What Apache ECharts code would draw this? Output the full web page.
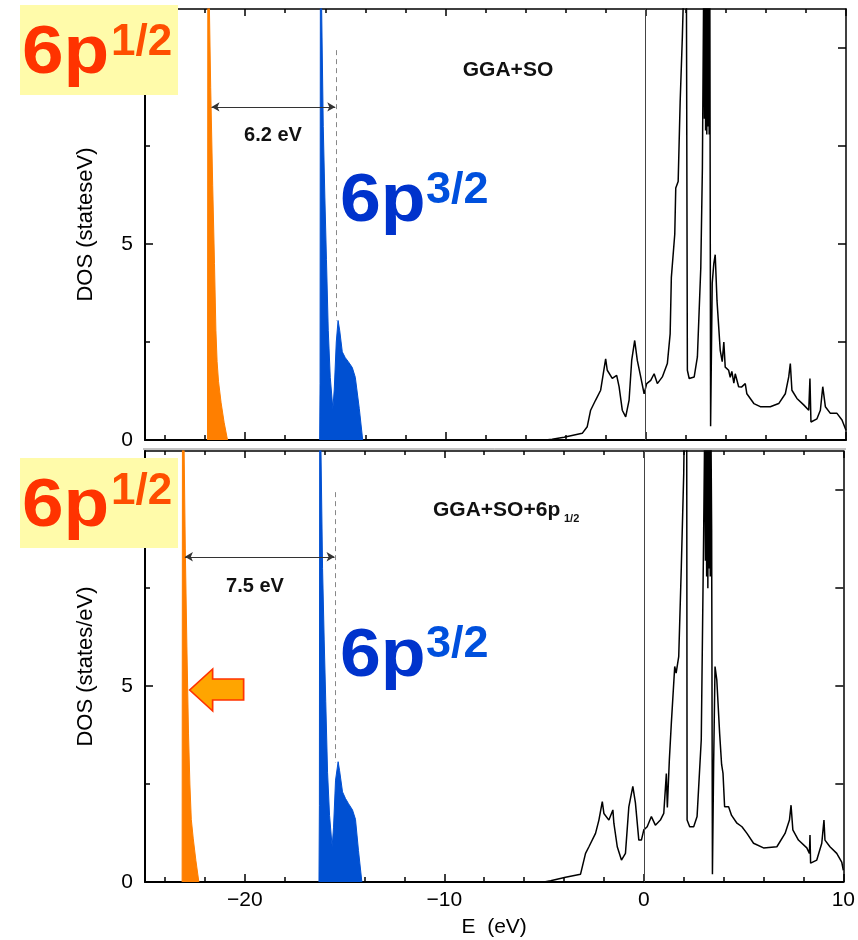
<!DOCTYPE html>
<html>
<head>
<meta charset="utf-8">
<script src="https://cdn.jsdelivr.net/npm/echarts@6/dist/echarts.min.js"></script>
<style>
html,body{margin:0;padding:0;background:#fff;}
#chart{width:858px;height:940px;}
</style>
</head>
<body>
<div id="chart"></div>
<script>
// ---------- data ----------
// x-axis tick values
const xMinorTicks = [-24,-22,-18,-16,-14,-12,-8,-6,-4,-2,2,4,6,8];
const xMajorTicks = [-20,-10,0,10];
const xTickLabels = [-20,-10,0,10];
const yMajorTicks = [0,5,10];
const yMinorTicks = [2.5,7.5];
const yRightTicks = [0,2.5,5,7.5,10];
const yTickLabels = [0,5];

// Top panel (GGA+SO)
const topOrangeE   = [-21.88,-21.86,-21.8,-21.72,-21.62,-21.53,-21.46,-21.4,-21.33,-21.2,-21.05,-20.88];
const topOrangeDOS = [0,14,11.5,9,6.5,4.5,2.8,2.0,1.5,0.95,0.45,0];

const topBlueE   = [-16.28,-16.26,-16.24,-16.18,-16.1,-16.02,-15.94,-15.85,-15.75,-15.62,-15.55,-15.45,-15.36,-15.28,-15.15,-15.0,-14.85,-14.65,-14.5,-14.3,-14.13];
const topBlueDOS = [0,1.45,14,11,8,6.2,4.6,2.8,1.6,0.8,1.3,2.5,3.05,2.8,2.25,2.1,2.0,1.85,1.6,0.8,0];

const topTotalE = [-5.0,-4.67,-4.08,-3.17,-2.92,-2.75,-2.5,-2.25,-2.12,-2.0,-1.92,-1.67,-1.45,-1.33,-1.17,-1.0,-0.83,-0.7,-0.55,-0.42,-0.25,-0.08,0.05,0.25,0.42,0.58,0.83,1.08,1.22,1.28,1.45,1.5,1.62,1.72,1.83,1.92,2.03,2.08,2.17,2.42,2.58,2.75,2.83,2.9,2.93,2.96,2.99,3.02,3.05,3.08,3.11,3.14,3.17,3.2,3.24,3.32,3.4,3.47,3.56,3.72,3.82,3.9,3.97,4.14,4.22,4.3,4.4,4.47,4.64,4.78,4.97,5.05,5.4,5.72,6.22,6.64,6.97,7.14,7.22,7.3,7.55,7.9,8.14,8.2,8.25,8.55,8.72,8.84,8.97,9.22,9.55,9.8,10.0];
const topTotalDOS = [0,0.02,0.07,0.17,0.34,0.76,1.02,1.27,1.69,2.07,1.78,1.57,1.65,1.36,0.76,0.59,1.02,2.03,2.54,2.03,1.61,1.18,1.44,1.52,1.69,1.44,1.61,1.95,2.71,4.15,5.25,6.43,6.6,8.64,10.3,12,12,1.78,1.57,1.61,2.12,4.4,6.95,12,8.2,12,7.9,12,7.8,12,8.0,12,7.8,12,0.35,4.0,4.5,4.73,3.55,2.29,2.0,2.5,1.86,1.78,1.6,1.75,1.45,1.69,1.36,1.35,1.44,1.18,0.93,0.85,0.85,0.93,1.18,1.61,1.95,1.27,1.06,0.89,0.76,1.57,0.46,0.54,0.76,1.36,0.85,0.68,0.68,0.51,0.25];

// Bottom panel (GGA+SO+6p1/2)
const botOrangeE   = [-23.14,-23.12,-23.05,-22.98,-22.9,-22.82,-22.75,-22.68,-22.58,-22.45,-22.3];
const botOrangeDOS = [0,14,11.5,8.5,6,3.8,2.5,1.6,1.1,0.55,0];

const botBlueE   = [-16.28,-16.26,-16.24,-16.18,-16.1,-16.02,-15.94,-15.85,-15.75,-15.62,-15.55,-15.45,-15.32,-15.25,-15.1,-14.95,-14.8,-14.6,-14.45,-14.3,-14.13];
const botBlueDOS = [0,1.95,14,11,8,6.2,4.6,2.8,1.7,0.9,1.4,2.6,3.07,2.85,2.3,2.13,2.0,1.84,1.6,0.8,0];

const botTotalE = [-5.0,-4.67,-3.92,-3.17,-2.92,-2.75,-2.42,-2.25,-2.08,-2.0,-1.75,-1.55,-1.5,-1.33,-1.12,-0.92,-0.75,-0.55,-0.42,-0.25,-0.12,0.0,0.17,0.38,0.58,0.83,1.0,1.13,1.18,1.28,1.38,1.55,1.62,1.75,1.88,2.0,2.04,2.15,2.17,2.3,2.5,2.67,2.88,3.0,3.06,3.09,3.12,3.15,3.18,3.21,3.24,3.27,3.3,3.33,3.36,3.4,3.44,3.5,3.57,3.66,3.8,3.9,3.97,4.05,4.25,4.4,4.5,4.67,4.92,5.17,5.5,6.0,6.67,7.08,7.3,7.38,7.47,7.75,8.17,8.3,8.33,8.36,8.67,8.92,9.03,9.08,9.33,9.67,9.92,10.0];
const botTotalDOS = [0,0.03,0.12,0.2,0.73,0.9,1.24,1.58,2.05,1.75,1.58,1.84,1.5,0.9,0.56,0.73,1.92,2.44,2.02,1.07,1.07,1.33,1.41,1.67,1.45,1.58,1.75,2.77,1.9,3.11,4.05,5.5,5.33,5.75,8.04,10.4,12,12,1.58,1.41,1.41,1.67,3.63,8.9,12,8.2,12,7.8,12,7.5,12,8.0,12,7.8,12,9,0.2,3.0,5.5,5.15,3.8,3.0,2.77,1.92,1.92,1.7,1.67,1.5,1.41,1.24,0.99,0.87,0.9,1.24,1.58,1.96,1.33,1.07,0.87,0.73,1.2,0.48,0.56,0.99,1.58,1.07,0.9,0.73,0.51,0.3];

// ---------- helpers ----------
function zip(xs, ys){ return xs.map((x,i)=>[x, ys[i]]); }

const FONT = '"Liberation Sans", Arial, Helvetica, sans-serif';
const X_MIN = -25, X_MAX = 10, Y_MIN = 0, Y_MAX = 11;

function xAxesFor(gridIndex, showLabels){
  const base = {
    type:'value', gridIndex, min:X_MIN, max:X_MAX,
    splitLine:{show:false}
  };
  return [
    Object.assign({}, base, {
      position:'bottom',
      axisLine:{show:true, onZero:false, lineStyle:{color:'#000', width:2}},
      axisTick:{show:true, inside:true, length:8, customValues:xMajorTicks, lineStyle:{color:'#000', width:1.5}},
      axisLabel:{show:showLabels, customValues:xTickLabels, margin:8, color:'#000', fontSize:21, fontFamily:FONT,
        formatter:v => (v<0 ? '\u2212'+Math.abs(v) : String(v))},
      name: showLabels ? 'E  (eV)' : '',
      nameLocation:'middle', nameGap:35,
      nameTextStyle:{color:'#000', fontSize:21, fontFamily:FONT}
    }),
    Object.assign({}, base, {
      position:'bottom',
      axisLine:{show:false, onZero:false},
      axisTick:{show:true, inside:true, length:5, customValues:xMinorTicks, lineStyle:{color:'#000', width:1.5}},
      axisLabel:{show:false}
    }),
    Object.assign({}, base, {
      position:'top',
      axisLine:{show:true, onZero:false, lineStyle:{color:'#000', width:1.5}},
      axisTick:{show:true, inside:true, length:7, customValues:xMajorTicks, lineStyle:{color:'#000', width:1.5}},
      axisLabel:{show:false}
    }),
    Object.assign({}, base, {
      position:'top',
      axisLine:{show:false, onZero:false},
      axisTick:{show:true, inside:true, length:4, customValues:xMinorTicks, lineStyle:{color:'#000', width:1.5}},
      axisLabel:{show:false}
    })
  ];
}

function yAxesFor(gridIndex, name){
  const base = {type:'value', gridIndex, min:Y_MIN, max:Y_MAX, splitLine:{show:false}};
  return [
    Object.assign({}, base, {
      position:'left',
      axisLine:{show:true, onZero:false, lineStyle:{color:'#000', width:2}},
      axisTick:{show:true, inside:true, length:8, customValues:yMajorTicks, lineStyle:{color:'#000', width:1.5}},
      axisLabel:{show:true, customValues:yTickLabels, margin:12, color:'#000', fontSize:21, fontFamily:FONT},
      name:name, nameLocation:'middle', nameGap:48, nameRotate:90,
      nameTextStyle:{color:'#000', fontSize:22, fontFamily:FONT}
    }),
    Object.assign({}, base, {
      position:'left',
      axisLine:{show:false, onZero:false},
      axisTick:{show:true, inside:true, length:5, customValues:yMinorTicks, lineStyle:{color:'#000', width:1.5}},
      axisLabel:{show:false}
    }),
    Object.assign({}, base, {
      position:'right',
      axisLine:{show:true, onZero:false, lineStyle:{color:'#000', width:1.5}},
      axisTick:{show:true, inside:true, length:8, customValues:yRightTicks, lineStyle:{color:'#000', width:1.5}},
      axisLabel:{show:false}
    })
  ];
}

const ORANGE = '#FF7F00';
const BLUE = '#0050D2';

function panelSeries(p, orangeE, orangeD, blueE, blueD, totE, totD, arrowLeft, arrowY, extraMarkPoint){
  const xi = p*4, yi = p*3;
  return [
    {
      type:'line', xAxisIndex:xi, yAxisIndex:yi, data:zip(orangeE, orangeD),
      showSymbol:false, symbol:'none', clip:true, z:3,
      lineStyle:{color:ORANGE, width:1},
      areaStyle:{color:ORANGE, opacity:1},
      markPoint: extraMarkPoint
    },
    {
      type:'line', xAxisIndex:xi, yAxisIndex:yi, data:zip(blueE, blueD),
      showSymbol:false, symbol:'none', clip:true, z:3,
      lineStyle:{color:BLUE, width:1},
      areaStyle:{color:BLUE, opacity:1}
    },
    {
      type:'line', xAxisIndex:xi, yAxisIndex:yi, data:zip(totE, totD),
      showSymbol:false, symbol:'none', clip:true, z:4,
      lineStyle:{color:'#000', width:1.5},
      markLine:{
        silent:true, animation:false, symbol:['none','none'], symbolSize:8,
        label:{show:false},
        data:[
          {xAxis:0, lineStyle:{color:'#444', width:1, type:'solid'}},
          [{coord:[-15.45, 9.95], lineStyle:{color:'#888', width:1, type:[5,4]}}, {coord:[-15.45, 3.05]}],
          [{coord:[arrowLeft, arrowY], symbol:'arrow', symbolSize:[7,8], lineStyle:{color:'#333', width:1.2, type:'solid'}},
           {coord:[-15.5, arrowY], symbol:'arrow', symbolSize:[7,8]}]
        ]
      }
    }
  ];
}

const bigArrow = {
  silent:true, animation:false,
  data:[{
    coord:[-21.41, 4.9],
    symbol:'path://M0,21 L23,0 L23,10 L54,10 L54,31 L23,31 L23,42 Z',
    symbolSize:[54,42], symbolKeepAspect:false,
    itemStyle:{color:'#FFA500', borderColor:'#FF3300', borderWidth:1.5},
    label:{show:false}
  }]
};

const chart = echarts.init(document.getElementById('chart'), null, {renderer:'canvas'});

function txt(x, y, text, size, color, weight, align, sx){
  return {type:'text', x:x, y:y, z:100, silent:true, scaleX: sx || 1,
    style:{text:text, fill:color, fontSize:size, fontWeight:weight||'bold', fontFamily:FONT,
      align:align||'left', verticalAlign:'middle'}};
}

const option = {
  animation:false,
  backgroundColor:'#fff',
  grid:[
    {left:145, top:9, width:701, height:431},
    {left:145, top:451, width:701, height:431}
  ],
  xAxis:[].concat(xAxesFor(0,false), xAxesFor(1,true)),
  yAxis:[].concat(yAxesFor(0,'DOS (stateseV)'), yAxesFor(1,'DOS (states/eV)')),
  series:[].concat(
    panelSeries(0, topOrangeE, topOrangeDOS, topBlueE, topBlueDOS, topTotalE, topTotalDOS, -21.68, 8.5, null),
    panelSeries(1, botOrangeE, botOrangeDOS, botBlueE, botBlueDOS, botTotalE, botTotalDOS, -23.0, 8.3, bigArrow)
  ),
  graphic:[
    {type:'line', z:50, silent:true, shape:{x1:143, y1:449, x2:846, y2:449}, style:{stroke:'#888', lineWidth:1}},
    // yellow label boxes
    {type:'rect', z:90, silent:true, shape:{x:20, y:5, width:158, height:90}, style:{fill:'#FFFBAA'}},
    {type:'rect', z:90, silent:true, shape:{x:20, y:458, width:158, height:90}, style:{fill:'#FFFBAA'}},
    txt(22, 54, '6p', 68, '#FF3300', 'bold', 'left', 1.1),
    txt(111, 43, '1/2', 44, '#FF4E00'),
    txt(22, 507, '6p', 68, '#FF3300', 'bold', 'left', 1.1),
    txt(111, 492, '1/2', 44, '#FF4E00'),
    txt(340, 202, '6p', 68, '#0033CC', 'bold', 'left', 1.08),
    txt(426, 191, '3/2', 45, '#0050DD'),
    txt(340, 657, '6p', 68, '#0033CC', 'bold', 'left', 1.08),
    txt(426, 645, '3/2', 45, '#0050DD'),
    txt(508, 70, 'GGA+SO', 21, '#111', 'bold', 'center'),
    txt(433, 510, 'GGA+SO+6p', 21, '#111', 'bold', 'left'),
    txt(564, 519, '1/2', 11, '#111', 'bold', 'left'),
    txt(273, 135, '6.2 eV', 20, '#111', 'bold', 'center'),
    txt(255, 586, '7.5 eV', 20, '#111', 'bold', 'center')
  ]
};
chart.setOption(option);
</script>
</body>
</html>
